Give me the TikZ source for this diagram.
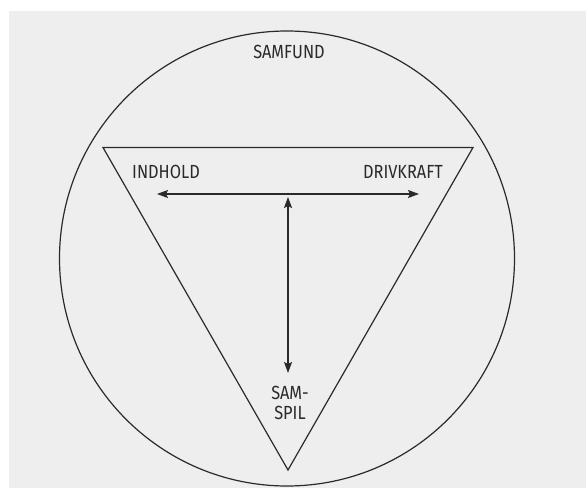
\documentclass[tikz,border=0pt]{standalone}
\usepackage{fontspec}
\setmainfont{Fira Sans}[FakeStretch=0.86]
\usetikzlibrary{arrows.meta}
\definecolor{paper}{HTML}{EEEEEE}
\definecolor{ink}{HTML}{2A2A2A}
\begin{document}
\begin{tikzpicture}[x=1pt,y=-1pt,>={Stealth[length=11pt,width=8pt,inset=2pt]},
  line/.style={ink,line width=1.2pt},
  lbl/.style={text=ink,font=\fontsize{19}{20.5}\selectfont,inner sep=0pt}]
  \useasboundingbox (0,0) rectangle (586,489);
  \fill[white] (0,0) rectangle (586,489);
  \fill[paper] (9,11) rectangle (586,488);
  % society
  \draw[line] (287,258.5) circle (227.5pt);
  \node[lbl] (samfund) at (289,52) {SAMFUND};
  % triangle
  \coordinate (tl) at (103,147.5);
  \coordinate (tr) at (473,147.5);
  \coordinate (apex) at (288,470);
  \draw[line] (tl) -- (tr) -- (apex) -- cycle;
  \node[lbl,anchor=west] (indhold) at (132,172) {INDHOLD};
  \node[lbl,anchor=east] (drivkraft) at (443,172) {DRIVKRAFT};
  \node[lbl,align=center] (samspil) at (290,403) {SAM-\\SPIL};
  % arrows
  \coordinate (h-left) at (157,194);
  \coordinate (h-right) at (419,194);
  \coordinate (v-top) at (288,197);
  \coordinate (v-bot) at (288,373);
  \draw[line,<->] (h-left) -- (h-right);
  \draw[line,<->] (v-top) -- (v-bot);
\end{tikzpicture}
\end{document}
